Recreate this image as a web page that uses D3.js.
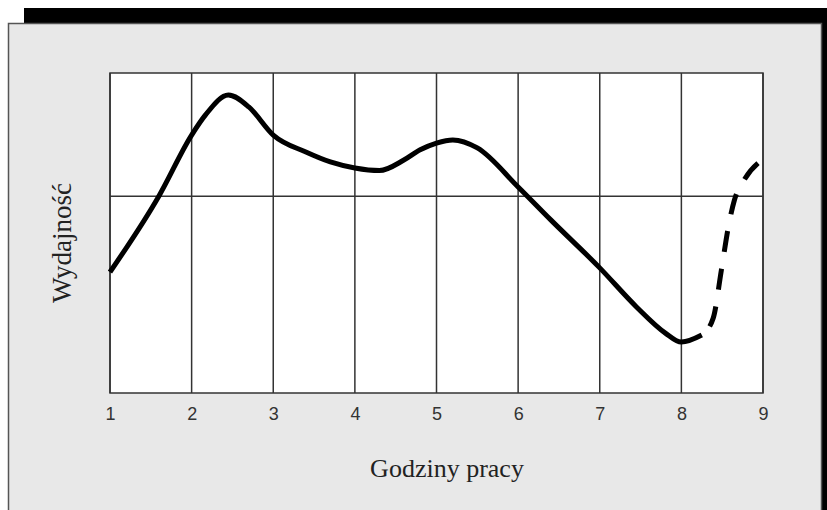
<!DOCTYPE html>
<html>
<head>
<meta charset="utf-8">
<script src="https://cdn.jsdelivr.net/npm/d3@7"></script>
<style>
  body { margin: 0; background: #fff; }
  svg { display: block; }
</style>
</head>
<body>
<script>
(function(){

    //tick labels along the bottom (hours)
    var hourTicks = [1, 2, 3, 4, 5, 6, 7, 8, 9];

    //solid part of the curve: hours worked vs productivity (0-100)
    var solidHours = [1, 1.6, 2, 2.17, 2.45, 2.7, 3, 3.4, 3.7, 4, 4.3, 4.6, 4.8, 5, 5.2, 5.5, 6, 6.4, 7, 7.45, 7.8, 8, 8.25];
    var solidValues = [37.8, 61.6, 80.6, 86.9, 93.1, 89.4, 80.6, 75.3, 72.2, 70.3, 69.5, 72.8, 76, 78.1, 79.1, 76.6, 64.4, 54.1, 39.1, 26.9, 18.8, 15.9, 18.1];

    //dashed part (after hour 8)
    var dashHours = [8.25, 8.39, 8.49, 8.58, 8.65, 8.77, 9];
    var dashValues = [18.1, 23.4, 38.4, 52.5, 60.3, 66.6, 73.1];

    //horizontal reference line
    var refLine = 61.5;

    var xTitle = "Godziny pracy",
        yTitle = "Wydajność";

    var width = 827, height = 510;

    var svg = d3.select("body")
        .append("svg")
        .attr("width", width)
        .attr("height", height);

    //black shadow behind the panel
    svg.append("rect")
        .attr("x", 24).attr("y", 8)
        .attr("width", width - 24).attr("height", height)
        .attr("fill", "#000");

    //grey panel
    svg.append("rect")
        .attr("x", 8.5).attr("y", 23.5)
        .attr("width", 813).attr("height", height)
        .attr("fill", "#e8e8e8")
        .attr("stroke", "#555")
        .attr("stroke-width", 1.5);

    //plot area
    var plot = {left: 110, top: 73, right: 763, bottom: 393};

    var x = d3.scaleLinear()
        .domain([1, 9])
        .range([plot.left, plot.right]);

    var y = d3.scaleLinear()
        .domain([0, 100])
        .range([plot.bottom, plot.top]);

    svg.append("rect")
        .attr("x", plot.left).attr("y", plot.top)
        .attr("width", plot.right - plot.left)
        .attr("height", plot.bottom - plot.top)
        .attr("fill", "#fff");

    //vertical grid lines
    svg.selectAll(".vgrid")
        .data(hourTicks)
        .enter()
        .append("line")
        .attr("class", "vgrid")
        .attr("x1", d => x(d)).attr("x2", d => x(d))
        .attr("y1", plot.top).attr("y2", plot.bottom)
        .attr("stroke", "#333")
        .attr("stroke-width", 1.5);

    //horizontal reference line
    svg.append("line")
        .attr("x1", plot.left).attr("x2", plot.right)
        .attr("y1", y(refLine)).attr("y2", y(refLine))
        .attr("stroke", "#333")
        .attr("stroke-width", 1.5);

    //frame of the plot
    svg.append("rect")
        .attr("x", plot.left).attr("y", plot.top)
        .attr("width", plot.right - plot.left)
        .attr("height", plot.bottom - plot.top)
        .attr("fill", "none")
        .attr("stroke", "#333")
        .attr("stroke-width", 1.5);

    //tick labels via d3 axis
    var xAxis = d3.axisBottom(x)
        .tickValues(hourTicks)
        .tickFormat(d3.format("d"))
        .tickSize(0)
        .tickPadding(14);

    var axisG = svg.append("g")
        .attr("transform", `translate(0,${plot.bottom})`)
        .call(xAxis);
    axisG.select(".domain").remove();
    axisG.selectAll("text")
        .attr("font-family", "Liberation Sans, Arial, sans-serif")
        .attr("font-size", 18)
        .attr("fill", "#333");

    //the curve
    var line = d3.line()
        .x(d => x(d[0]))
        .y(d => y(d[1]))
        .curve(d3.curveMonotoneX);

    var solidData = d3.zip(solidHours, solidValues),
        dashData = d3.zip(dashHours, dashValues);

    svg.append("path")
        .datum(solidData)
        .attr("d", line)
        .attr("fill", "none")
        .attr("stroke", "#000")
        .attr("stroke-width", 5)
        .attr("stroke-linejoin", "round");

    svg.append("path")
        .datum(dashData)
        .attr("d", line)
        .attr("fill", "none")
        .attr("stroke", "#000")
        .attr("stroke-width", 5)
        .attr("stroke-dasharray", "0,12,21,17,21,17,21,17,21,17,21,17");

    //axis titles
    svg.append("text")
        .attr("x", 447)
        .attr("y", 477)
        .attr("text-anchor", "middle")
        .attr("font-family", "Liberation Serif, Times New Roman, serif")
        .attr("font-size", 26)
        .attr("fill", "#222")
        .text(xTitle);

    svg.append("text")
        .attr("transform", `translate(71,243) rotate(-90)`)
        .attr("text-anchor", "middle")
        .attr("font-family", "Liberation Serif, Times New Roman, serif")
        .attr("font-size", 27)
        .attr("fill", "#222")
        .text(yTitle);

})();
</script>
</body>
</html>
